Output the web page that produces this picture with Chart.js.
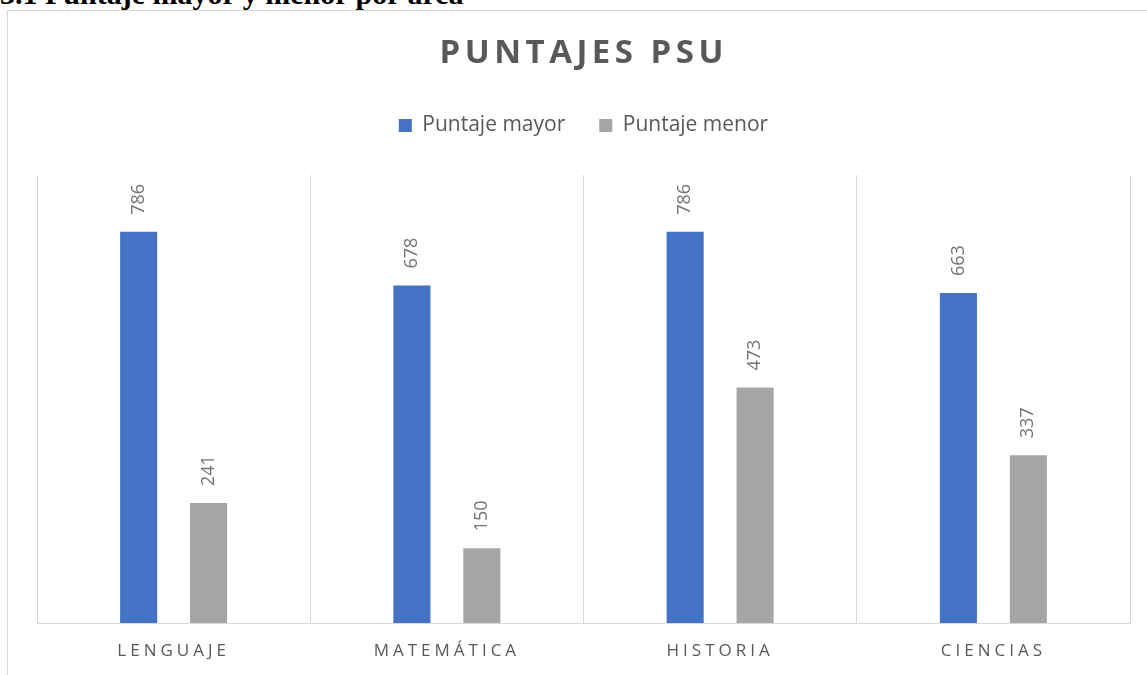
<!DOCTYPE html>
<html>
<head>
<meta charset="utf-8">
<script src="https://cdn.jsdelivr.net/npm/chart.js@4.4.1/dist/chart.umd.min.js"></script>
<style>
  html, body { margin: 0; padding: 0; background: #fff; overflow: hidden; }
  body { width: 1147px; height: 675px; position: relative; }
  #heading {
    position: absolute; left: 0; top: -21px; margin: 0;
    font: bold 30px/30px "Liberation Serif", "Times New Roman", serif;
    color: #000; white-space: nowrap;
  }
  #box {
    position: absolute; left: 7px; top: 10px; width: 1145px; height: 680px;
    border: 1px solid #d9d9d9; box-sizing: border-box;
  }
  #wrap { position: absolute; left: 8px; top: 11px; width: 1139px; height: 664px; }
</style>
</head>
<body>
<div id="heading">3.1 Puntaje mayor y menor por área</div>
<div id="box"></div>
<div id="wrap"><canvas id="myChart" width="1139" height="664"></canvas></div>
<script>
'use strict';

const chartTitle = 'PUNTAJES PSU';
const areas = [ 'LENGUAJE', 'MATEMÁTICA', 'HISTORIA', 'CIENCIAS' ];
const seriesNames = [ 'Puntaje mayor', 'Puntaje menor' ];
const puntajeMayor = [ 786, 678, 786, 663 ];
const puntajeMenor = [ 241, 150, 473, 337 ];
const yMin = 0;
const yMax = 900;

const textGray = '#595959';
const labelGray = '#737373';
const gridGray = '#d9d9d9';

// title, x labels and value labels are drawn by hand for the letter spacing and rotation
const customText = {
  id: 'customText',
  afterDatasetsDraw( chart ) {
    const ctx = chart.ctx;
    ctx.save();
    ctx.fillStyle = labelGray;
    ctx.font = '18px "Open Sans"';
    ctx.textAlign = 'left';
    ctx.textBaseline = 'middle';
    chart.data.datasets.forEach( ( ds, i ) => {
      let meta = chart.getDatasetMeta( i );
      meta.data.forEach( ( bar, j ) => {
        ctx.save();
        ctx.translate( bar.x, bar.y - 17 );
        ctx.rotate( -Math.PI / 2 );
        ctx.fillText( String( ds.data[j] ), 0, 0 );
        ctx.restore();
      } );
    } );
    ctx.restore();
  },
  afterDraw( chart ) {
    const ctx = chart.ctx;
    ctx.save();
    ctx.textAlign = 'left';
    ctx.textBaseline = 'middle';

    // title
    ctx.fillStyle = textGray;
    ctx.font = 'bold 33px "Open Sans"';
    ctx.letterSpacing = '4.5px';
    let w = ctx.measureText( chartTitle ).width - 4.5;
    ctx.fillText( chartTitle, chart.width / 2 + 4 - w / 2, 43 );

    // category labels
    ctx.font = '17px "Open Sans"';
    ctx.letterSpacing = '4px';
    const xScale = chart.scales.x;
    areas.forEach( ( a, i ) => {
      let tw = ctx.measureText( a ).width;
      ctx.fillText( a, xScale.getPixelForValue( i ) - tw / 2, 640 );
    } );
    ctx.restore();
  }
};

let ctx = document.getElementById( 'myChart' ).getContext( '2d' );
let myChart = new Chart( ctx, {
  type: 'bar',
  data: {
    labels: areas,
    datasets: [{
      label: seriesNames[0],
      data: puntajeMayor,
      backgroundColor: '#4472c4',
      borderWidth: 0
    }, {
      label: seriesNames[1],
      data: puntajeMenor,
      backgroundColor: '#a5a5a5',
      borderWidth: 0
    }]
  },
  options: {
    responsive: false,
    animation: false,
    categoryPercentage: 0.512,
    barPercentage: 0.53,
    layout: {
      padding: { top: 70, left: 29, right: 17, bottom: 0 }
    },
    plugins: {
      title: { display: false },
      // empty box between legend and plot, only to keep the gap
      subtitle: {
        display: true,
        text: '',
        weight: 500,
        font: { size: 10, lineHeight: 1 },
        padding: { top: 9, bottom: 10 }
      },
      tooltip: { enabled: false },
      legend: {
        position: 'top',
        labels: {
          boxWidth: 13,
          boxHeight: 13,
          padding: 34,
          color: textGray,
          font: { family: '"Open Sans"', size: 21 }
        }
      }
    },
    scales: {
      x: {
        grid: { color: gridGray, lineWidth: 1, drawTicks: false, offset: true },
        border: { color: gridGray },
        ticks: { display: false },
        afterFit( scale ) {
          scale.height = 52;
        }
      },
      y: {
        display: false,
        min: yMin,
        max: yMax
      }
    }
  },
  plugins: [ customText ]
} );
</script>
</body>
</html>
